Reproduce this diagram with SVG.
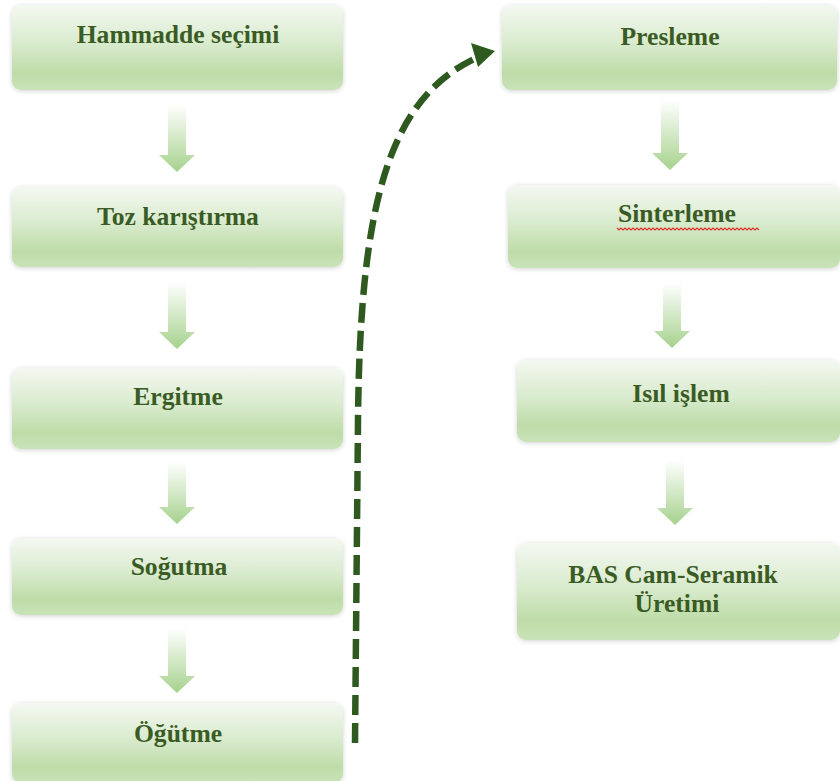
<svg xmlns="http://www.w3.org/2000/svg" width="840" height="781" viewBox="0 0 840 781">
<style>
.box{fill:url(#boxGrad);filter:url(#soft)}
.lbl{font-family:'Liberation Serif',serif;font-weight:700;font-size:25.6px;fill:#3a5c24;text-anchor:middle}
.dn{fill:url(#arrGrad)}
.flow{fill:none;stroke:#2f5a1f;stroke-width:6.5;stroke-dasharray:20 8}
</style>
<defs>
<linearGradient id="boxGrad" x1="0" y1="0" x2="0" y2="1">
<stop offset="0" stop-color="#f4f8f1"/>
<stop offset="0.45" stop-color="#d9ebce"/>
<stop offset="0.8" stop-color="#bedca8"/>
<stop offset="1" stop-color="#c9e3b8"/>
</linearGradient>
<linearGradient id="arrGrad" x1="0" y1="0" x2="0" y2="1">
<stop offset="0" stop-color="#ffffff"/>
<stop offset="1" stop-color="#a6d28d"/>
</linearGradient>
<filter id="soft" x="-5%" y="-10%" width="110%" height="125%">
<feGaussianBlur in="SourceAlpha" stdDeviation="2.5"/>
<feOffset dy="1"/>
<feComponentTransfer><feFuncA type="linear" slope="0.18"/></feComponentTransfer>
<feMerge><feMergeNode/><feMergeNode in="SourceGraphic"/></feMerge>
</filter>
</defs>
<rect width="840" height="781" fill="#ffffff"/>

<g id="n1"><rect class="box" x="12" y="5" width="331" height="85" rx="9"/><text class="lbl" font-family="Liberation Serif" x="178" y="43">Hammadde seçimi</text></g>
<g id="n2"><rect class="box" x="12" y="187" width="331" height="80" rx="9"/><text class="lbl" font-family="Liberation Serif" x="178" y="225">Toz karıştırma</text></g>
<g id="n3"><rect class="box" x="12" y="368" width="331" height="81" rx="9"/><text class="lbl" font-family="Liberation Serif" x="178" y="405">Ergitme</text></g>
<g id="n4"><rect class="box" x="12" y="538" width="331" height="77" rx="9"/><text class="lbl" font-family="Liberation Serif" x="179" y="575">Soğutma</text></g>
<g id="n5"><rect class="box" x="12" y="703" width="331" height="80" rx="9"/><text class="lbl" font-family="Liberation Serif" x="178" y="742">Öğütme</text></g>

<g id="n6"><rect class="box" x="502" y="5" width="335" height="85" rx="9"/><text class="lbl" font-family="Liberation Serif" x="670" y="45">Presleme</text></g>
<g id="n7"><rect class="box" x="508" y="185" width="332" height="83" rx="9"/><text class="lbl" font-family="Liberation Serif" x="677" y="222">Sinterleme</text>
<path d="M617 228 l2 2 l2 -2 l2 2 l2 -2 l2 2 l2 -2 l2 2 l2 -2 l2 2 l2 -2 l2 2 l2 -2 l2 2 l2 -2 l2 2 l2 -2 l2 2 l2 -2 l2 2 l2 -2 l2 2 l2 -2 l2 2 l2 -2 l2 2 l2 -2 l2 2 l2 -2 l2 2 l2 -2 l2 2 l2 -2 l2 2 l2 -2 l2 2 l2 -2 l2 2 l2 -2 l2 2 l2 -2 l2 2 l2 -2 l2 2 l2 -2 l2 2 l2 -2 l2 2 l2 -2 l2 2 l2 -2 l2 2 l2 -2 l2 2 l2 -2 l2 2 l2 -2 l2 2 l2 -2 l2 2 l2 -2 l2 2 l2 -2 l2 2 l2 -2 l2 2 l2 -2 l2 2 l2 -2 l2 2 l2 -2 l2 2" fill="none" stroke="#e0302a" stroke-width="1.2"/></g>
<g id="n8"><rect class="box" x="517" y="360" width="323" height="82" rx="9"/><text class="lbl" font-family="Liberation Serif" x="681" y="402">Isıl işlem</text></g>
<g id="n9"><rect class="box" x="517" y="543" width="323" height="97" rx="9"/><text class="lbl" font-family="Liberation Serif" x="673" y="583">BAS Cam-Seramik</text><text class="lbl" font-family="Liberation Serif" x="677" y="612">Üretimi</text></g>

<g id="connectors">
<path class="dn" d="M168 105 H186 V155 H195 L177 172 L159 155 H168 Z"/>
<path class="dn" d="M168 282 H186 V332 H195 L177 349 L159 332 H168 Z"/>
<path class="dn" d="M168 462 H186 V507 H195 L177 524 L159 507 H168 Z"/>
<path class="dn" d="M168 628 H186 V676 H195 L177 693 L159 676 H168 Z"/>
<path class="dn" d="M661 100 H679 V153 H688 L670 170 L652 153 H661 Z"/>
<path class="dn" d="M663 283 H681 V331 H690 L672 348 L654 331 H663 Z"/>
<path class="dn" d="M666 460 H684 V508 H693 L675 525 L657 508 H666 Z"/>
<path class="flow" d="M355 743 L358 420 C360 200 390 100 474 59"/>
<polygon points="471,43 478,67 495,51" fill="#2f5a1f"/>
</g>
</svg>
